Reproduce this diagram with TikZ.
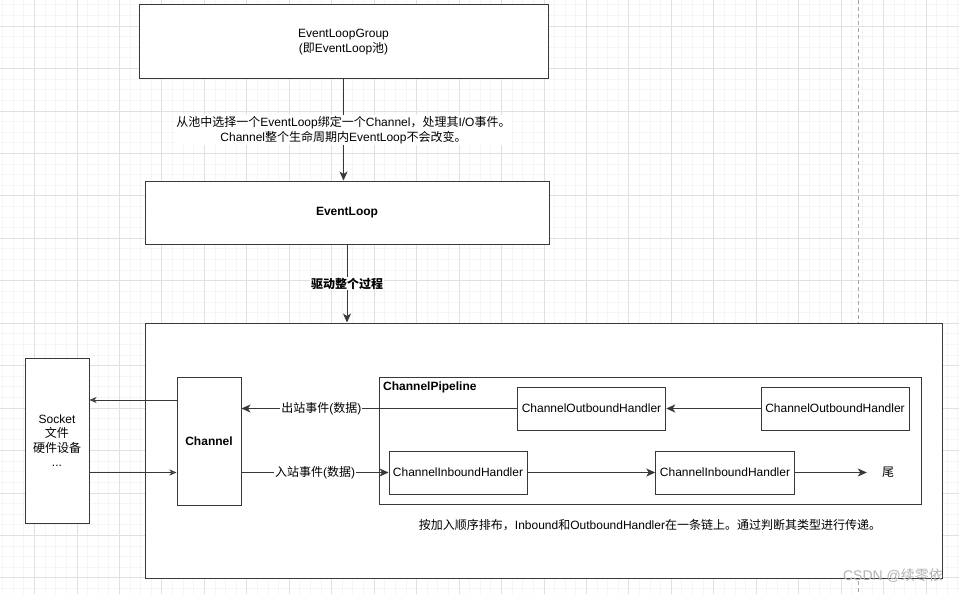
\documentclass[tikz,border=0pt]{standalone}
\usepackage{fontspec}
\setmainfont{Liberation Sans}
\newfontfamily\zhfont{Noto Sans CJK SC}
\usetikzlibrary{arrows.meta}
\newcommand\zh[1]{{\zhfont #1}}
\definecolor{gridmin}{HTML}{F5F5F5}
\definecolor{gridmaj}{HTML}{E0E0E0}
\definecolor{edge}{HTML}{383838}

\begin{document}
\begin{tikzpicture}[x=1pt, y=-1pt,
    every node/.style={font=\fontsize{12}{14.5}\selectfont, text=black},
    box/.style={draw=edge, line width=1pt, fill=white, inner sep=0, align=center},
    lbl/.style={fill=white, inner sep=1pt, align=center},
    bold/.style={font=\fontsize{12}{14.5}\selectfont\bfseries},
    arr/.style={draw=edge, line width=1pt, -{Stealth[length=9pt,width=8pt,inset=2.5pt]}},
    hol/.style={draw=edge, line width=1pt, -{Stealth[open,length=7pt,width=6pt,inset=2pt]}}]
  \fill[white] (0,0) rectangle (959,594);
  \useasboundingbox (0,0) rectangle (959,594);

  % Background grid
  \foreach \i in {0,...,90}
    \draw[gridmin, line width=0.8pt] ({2.66+10.6125*\i},0) -- ++(0,594);
  \foreach \j in {0,...,55}
    \draw[gridmin, line width=0.8pt] (0,{4.78+10.6125*\j}) -- ++(959,0);
  \foreach \i in {0,...,22}
    \draw[gridmaj, line width=0.8pt] ({34.5+42.45*\i},0) -- ++(0,594);
  \foreach \j in {0,...,13}
    \draw[gridmaj, line width=0.8pt] (0,{26+42.45*\j}) -- ++(959,0);
  \draw[gray!70, line width=0.8pt, dash pattern=on 4pt off 3pt] (858.5,0) -- (858.5,594);

  % Top boxes
  \node[box, minimum width=409pt, minimum height=74pt] (grp) at (343.5,42)
    {EventLoopGroup\\(\zh{即}EventLoop\zh{池})};
  \node[box, bold, minimum width=404pt, minimum height=63pt] (loop) at (347,212.5) {EventLoop};

  % Container and its content
  \node[box, minimum width=797pt, minimum height=255pt] (cont) at (543.5,450.5) {};
  \node[box, minimum width=64pt, minimum height=165pt] (sock) at (57,440.5)
    {Socket\\\zh{文件}\\\zh{硬件设备}\\...};
  \node[box, bold, minimum width=64pt, minimum height=128pt] (ch) at (209,441) {Channel};
  \node[box, minimum width=542pt, minimum height=127pt] (pipe) at (650,440.5) {};
  \node[bold, anchor=north west, inner sep=0] (pipet) at ([xshift=4.5pt,yshift=-5pt]pipe.north west) {ChannelPipeline};
  \node[box, minimum width=148.5pt, minimum height=43pt] (oh1) at (591.5,408.5) {ChannelOutboundHandler};
  \node[box, minimum width=148pt, minimum height=43pt] (oh2) at (835,408.5) {ChannelOutboundHandler};
  \node[box, minimum width=138pt, minimum height=43pt] (ih1) at (458,472.5) {ChannelInboundHandler};
  \node[box, minimum width=138.5pt, minimum height=43pt] (ih2) at (725,472.5) {ChannelInboundHandler};
  \node[minimum width=42pt, inner sep=0] (tail) at (888,472.5) {\zh{尾}};
  \node (note) at (650,525)
    {\zh{按加入顺序排布，}Inbound\zh{和}OutboundHandler\zh{在一条链上。通过判断其类型进行传递。}};

  % Connectors
  \draw[arr] (grp) -- (grp |- loop.north) node[lbl, midway]
    {\zh{从池中选择一个}EventLoop\zh{绑定一个}Channel\zh{，处理其}I/O\zh{事件。}\\
     Channel\zh{整个生命周期内}EventLoop\zh{不会改变。}};
  \draw[arr] (loop) -- (loop |- cont.north) node[lbl, bold, midway] {\zh{驱动整个过程}};
  \draw[arr] (oh2) -- (oh1);
  \draw[arr] (oh1) -- (oh1 -| ch.east) node[lbl, pos=0.71] {\zh{出站事件}(\zh{数据})};
  \draw[arr] (ch.east |- ih1) -- (ih1) node[lbl, midway] {\zh{入站事件}(\zh{数据})};
  \draw[arr] (ih1) -- (ih2);
  \draw[arr] (ih2) -- (tail);
  \draw[hol] ([yshift=41pt]ch.west) -- ([yshift=41pt]ch.west -| sock.east);
  \draw[hol] (sock.east |- ih1) -- (ch.west |- ih1);

  % Watermark
  \node[text=gray!60, font=\fontsize{14}{16}\selectfont] (wm) at (893,576) {CSDN @\zh{续零依}};
\end{tikzpicture}
\end{document}
